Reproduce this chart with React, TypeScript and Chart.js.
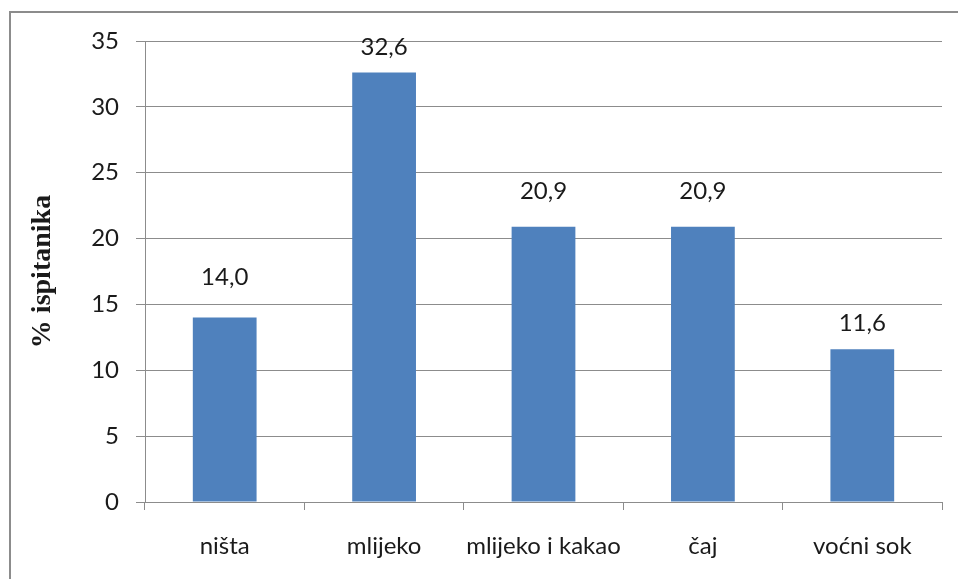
import React, { useEffect, useRef } from "react";
import { Chart, registerables } from "chart.js";

Chart.register(...registerables);

const categories = ["ništa", "mlijeko", "mlijeko i kakao", "čaj", "voćni sok"];
const values = [14.0, 32.6, 20.9, 20.9, 11.6];
const valueLabels = ["14,0", "32,6", "20,9", "20,9", "11,6"];
const yTicks = [0, 5, 10, 15, 20, 25, 30, 35];

const labelLift = [40, 25, 35, 35, 26];

const TICK_FONT = "Lato";

const frame = {
  id: "frame",
  beforeDraw(chart: any) {
    const { ctx } = chart;
    ctx.save();
    ctx.fillStyle = "#ffffff";
    ctx.fillRect(0, 0, chart.width, chart.height);
    ctx.strokeStyle = "#8c8c8c";
    ctx.lineWidth = 2;
    ctx.strokeRect(10, 12, chart.width + 20, chart.height + 20);
    ctx.restore();
  },
};

const valueLabelPlugin = {
  id: "valueLabels",
  afterDatasetsDraw(chart: any) {
    const { ctx } = chart;
    const meta = chart.getDatasetMeta(0);
    ctx.save();
    ctx.font = `24px ${TICK_FONT}`;
    ctx.fillStyle = "#1a1a1a";
    ctx.textAlign = "center";
    ctx.textBaseline = "middle";
    meta.data.forEach((bar: any, i: number) => {
      ctx.fillText(valueLabels[i], bar.x, bar.y - labelLift[i]);
    });
    ctx.restore();
  },
};

export default function App() {
  const ref = useRef<HTMLCanvasElement | null>(null);
  useEffect(() => {
    if (!ref.current) return;
    const chart = new Chart(ref.current, {
      type: "bar",
      data: {
        labels: categories,
        datasets: [
          {
            data: values,
            backgroundColor: "#4f81bd",
            borderWidth: 0,
            barPercentage: 0.4,
            categoryPercentage: 1,
          },
        ],
      },
      options: {
        responsive: false,
        animation: false,
        maintainAspectRatio: false,
        layout: { padding: { left: 0, top: 41, right: 16, bottom: 0 } },
        plugins: { legend: { display: false }, tooltip: { enabled: false } },
        scales: {
          x: {
            afterFit: (s: any) => {
              s.height = 77;
            },
            grid: {
              display: true,
              drawOnChartArea: false,
              offset: true,
              tickLength: 8,
              color: "#8c8c8c",
            },
            border: { color: "#8c8c8c" },
            ticks: {
              color: "#1a1a1a",
              padding: 22,
              font: { family: TICK_FONT, size: 24 },
              maxRotation: 0,
            },
          },
          y: {
            min: 0,
            max: 35,
            afterFit: (s: any) => {
              s.width = 145;
            },
            afterBuildTicks: (s: any) => {
              s.ticks = yTicks.map((v) => ({ value: v }));
            },
            grid: { color: "#8c8c8c", tickLength: 9 },
            border: { color: "#8c8c8c" },
            ticks: {
              color: "#1a1a1a",
              padding: 17,
              font: { family: TICK_FONT, size: 24 },
            },
            title: {
              display: true,
              text: "% ispitanika",
              color: "#1a1a1a",
              font: { family: "Liberation Serif", size: 28, weight: "bold" },
              padding: { top: 26, bottom: 0 },
            },
          },
        },
      },
      plugins: [frame, valueLabelPlugin],
    });
    return () => chart.destroy();
  }, []);
  return (
    <div style={{ position: "fixed", left: 0, top: 0, width: 958, height: 579, background: "#fff" }}>
      <canvas ref={ref} width={958} height={579} style={{ display: "block" }} />
    </div>
  );
}
